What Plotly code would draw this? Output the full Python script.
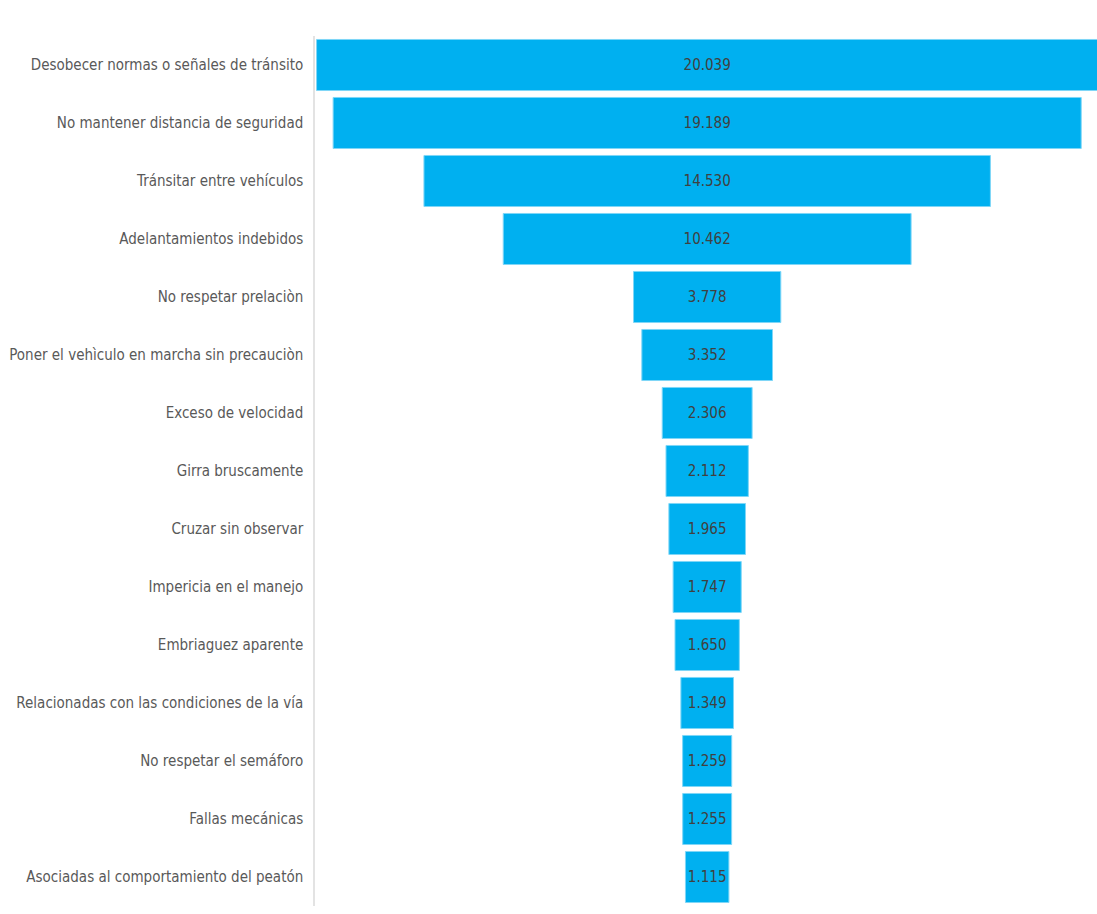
import plotly.graph_objects as go

categories = [
    "Desobecer normas o señales de tránsito",
    "No mantener distancia de seguridad",
    "Tránsitar entre vehículos",
    "Adelantamientos indebidos",
    "No respetar prelaciòn",
    "Poner el vehìculo en marcha sin precauciòn",
    "Exceso de velocidad",
    "Girra bruscamente",
    "Cruzar sin observar",
    "Impericia en el manejo",
    "Embriaguez aparente",
    "Relacionadas con las condiciones de la vía",
    "No respetar el semáforo",
    "Fallas mecánicas",
    "Asociadas al comportamiento del peatón",
]
values = [20039, 19189, 14530, 10462, 3778, 3352, 2306, 2112, 1965, 1747, 1650, 1349, 1259, 1255, 1115]

FONT = "DejaVu Sans Condensed, Liberation Sans Narrow, sans-serif"

fig = go.Figure(
    go.Funnel(
        y=categories,
        x=values,
        texttemplate="%{value:,}",
        textposition="inside",
        insidetextanchor="middle",
        textfont=dict(family=FONT, size=15, color="#404040"),
        marker=dict(color="#00B0F0", line=dict(color="#7FD6F7", width=1)),
        connector=dict(visible=False),
        constraintext="none",
    )
)

half = max(values) / 2
fig.update_layout(
    width=1097,
    height=914,
    margin=dict(l=315, r=0, t=36, b=8, autoexpand=False),
    paper_bgcolor="white",
    plot_bgcolor="white",
    separators=",.",
    funnelgap=0.12,
    showlegend=False,
    font=dict(family=FONT, size=15, color="#595959"),
    xaxis=dict(visible=False, range=[-half * 1.004, half * 0.998], automargin=False),
    yaxis=dict(
        automargin=False,
        showline=True,
        linecolor="#E3E3E3",
        linewidth=1.5,
        ticks="",
        ticklabelstandoff=7,
        tickfont=dict(family=FONT, size=15, color="#595959"),
        showgrid=False,
    ),
)

fig.write_html(
    "out.html",
    config={"displayModeBar": False},
    post_script="document.body.style.margin='0';document.body.style.overflow='hidden';",
)
